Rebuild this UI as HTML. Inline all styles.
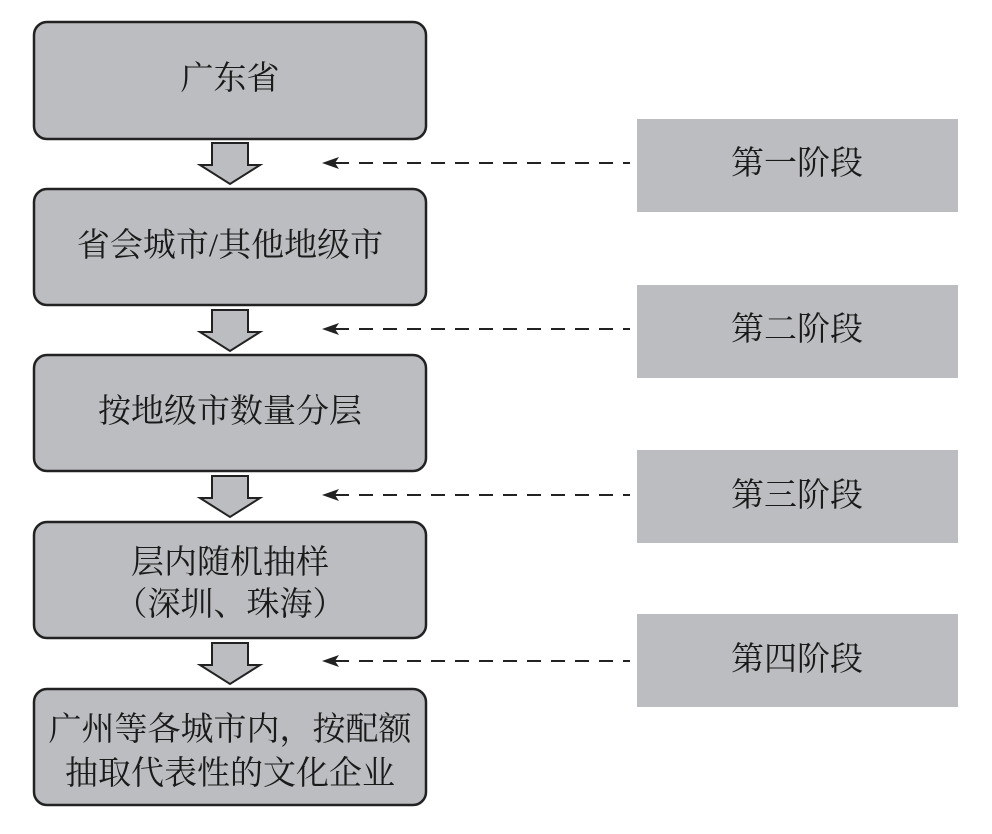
<!DOCTYPE html>
<html><head><meta charset="utf-8"><style>
html,body{margin:0;padding:0;background:#fff;}
svg{display:block;}
text{font-family:"Liberation Serif","Noto Serif CJK SC",serif;font-size:33px;fill:#1a1a1a;}
</style></head><body>
<svg width="992" height="834" viewBox="0 0 992 834" xmlns="http://www.w3.org/2000/svg">
<g fill="#bcbdc0" stroke="#222" stroke-width="2.5">
<rect x="34" y="22" width="392" height="117" rx="13"/>
<rect x="34" y="189" width="392" height="116" rx="13"/>
<rect x="34" y="355" width="392" height="116" rx="13"/>
<rect x="34" y="522" width="392" height="116" rx="13"/>
<rect x="34" y="689" width="392" height="116" rx="13"/>
</g>
<g fill="#bcbdc0">
<rect x="637" y="119" width="321" height="93"/>
<rect x="637" y="285" width="321" height="93"/>
<rect x="637" y="450" width="321" height="93"/>
<rect x="637" y="614" width="321" height="93"/>
</g>
<g fill="#bcbdc0" stroke="#222" stroke-width="2" stroke-linejoin="miter">
<polygon points="212,143 248,143 248,165 260,165 230,184 200,165 212,165"/>
<polygon points="212,310 248,310 248,332 260,332 230,351 200,332 212,332"/>
<polygon points="212,476 248,476 248,498 260,498 230,517 200,498 212,498"/>
<polygon points="212,643 248,643 248,665 260,665 230,684 200,665 212,665"/>
</g>
<g stroke="#222" stroke-width="2" stroke-dasharray="14,10">
<line x1="335" y1="163" x2="630" y2="163"/>
<line x1="335" y1="329" x2="630" y2="329"/>
<line x1="335" y1="495" x2="630" y2="495"/>
<line x1="335" y1="661" x2="630" y2="661"/>
</g>
<g fill="#222">
<polygon points="322,163 339,157 335,163 339,169"/>
<polygon points="322,329 339,323 335,329 339,335"/>
<polygon points="322,495 339,489 335,495 339,501"/>
<polygon points="322,661 339,655 335,661 339,667"/>
</g>
<g text-anchor="middle" dominant-baseline="central">
<text x="230" y="79">广东省</text>
<text x="230" y="246">省会城市/其他地级市</text>
<text x="230" y="412">按地级市数量分层</text>
<text x="230" y="563">层内随机抽样</text>
<text x="230" y="605">（深圳、珠海）</text>
<text x="230" y="730">广州等各城市内，按配额</text>
<text x="230" y="774">抽取代表性的文化企业</text>
<text x="797" y="164">第一阶段</text>
<text x="797" y="330">第二阶段</text>
<text x="797" y="496">第三阶段</text>
<text x="797" y="660">第四阶段</text>
</g>
</svg>
</body></html>
